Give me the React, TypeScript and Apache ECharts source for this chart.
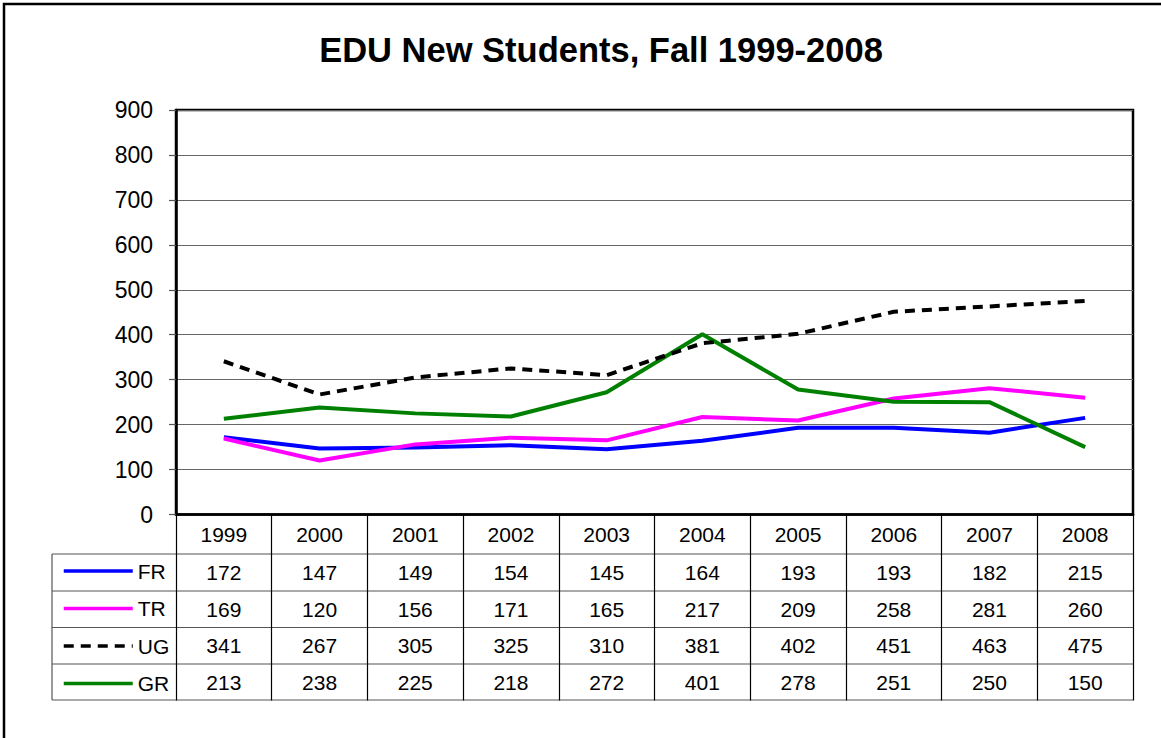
import React, { useEffect, useRef } from "react";
import * as echarts from "echarts";

const years = ["1999", "2000", "2001", "2002", "2003", "2004", "2005", "2006", "2007", "2008"];
const FR = [172, 147, 149, 154, 145, 164, 193, 193, 182, 215];
const TR = [169, 120, 156, 171, 165, 217, 209, 258, 281, 260];
const UG = [341, 267, 305, 325, 310, 381, 402, 451, 463, 475];
const GR = [213, 238, 225, 218, 272, 401, 278, 251, 250, 150];
const seriesNames = ["FR", "TR", "UG", "GR"];
const seriesData = [FR, TR, UG, GR];
const title = "EDU New Students, Fall 1999-2008";

const FONT = "'Liberation Sans', Arial, sans-serif";

export default function App() {
  const ref = useRef<HTMLDivElement>(null);
  useEffect(() => {
    document.body.style.margin = "0";
    const chart = echarts.init(ref.current!, null, { renderer: "svg" });
    const gridLeft = 176;
    const gridTop = 110;
    const gridRight = 1133;
    const gridBottom = 514.5;
    const colors = ["#0000FF", "#FF00FF", "#000000", "#008000"];
    const rowOffsets = [38, 75, 111, 148];
    const hLines = [554, 591, 627.5, 664, 700];

    const extraX = seriesData.map((arr, i) => ({
      type: "category",
      data: years,
      gridIndex: 0,
      position: "bottom",
      offset: rowOffsets[i],
      boundaryGap: true,
      axisLine: { show: false },
      axisTick: { show: false },
      splitLine: { show: false },
      axisLabel: {
        interval: 0,
        margin: 9,
        fontSize: 21,
        color: "#000",
        fontFamily: FONT,
        formatter: (_v: string, idx: number) => String(arr[idx]),
      },
    }));

    const graphics: any[] = [
      {
        type: "rect",
        shape: { x: 4, y: 4, width: 1300, height: 900 },
        style: { fill: "none", stroke: "#000", lineWidth: 2.5 },
        silent: true,
      },
      ...hLines.map((y) => ({
        type: "line",
        shape: { x1: 52, y1: y, x2: gridRight, y2: y },
        style: { stroke: "#555", lineWidth: 1.2 },
        silent: true,
      })),
      {
        type: "line",
        shape: { x1: 52, y1: hLines[0], x2: 52, y2: hLines[hLines.length - 1] },
        style: { stroke: "#555", lineWidth: 1.2 },
        silent: true,
      },
    ];

    chart.setOption({
      animation: false,
      backgroundColor: "#fff",
      title: {
        text: title,
        left: 601,
        top: 32,
        textAlign: "center",
        padding: 0,
        textStyle: { fontSize: 34.5, fontWeight: "bold", color: "#000", fontFamily: FONT },
      },
      legend: {
        data: seriesNames,
        orient: "vertical",
        left: 62,
        top: 560.5,
        itemWidth: 69,
        itemHeight: 20,
        itemGap: 16.5,
        padding: 0,
        itemStyle: { color: "rgba(0,0,0,0)", borderWidth: 0, opacity: 0 },
        lineStyle: { width: 3.5 },
        textStyle: { fontSize: 21, color: "#000", fontFamily: FONT },
      },
      grid: {
        left: gridLeft,
        top: gridTop,
        width: gridRight - gridLeft,
        height: gridBottom - gridTop,
        show: true,
        borderColor: "#000",
        borderWidth: 2.5,
        backgroundColor: "#fff",
      },
      xAxis: [
        {
          type: "category",
          data: years,
          boundaryGap: true,
          axisLine: { show: true, lineStyle: { color: "#000", width: 2.5 } },
          axisTick: { show: true, interval: 0, length: 186, lineStyle: { color: "#000", width: 1.2 } },
          splitLine: { show: false },
          axisLabel: { interval: 0, margin: 9, fontSize: 21, color: "#000", fontFamily: FONT },
        },
        ...extraX,
      ],
      yAxis: {
        type: "value",
        min: 0,
        max: 900,
        interval: 100,
        axisLine: { show: true, lineStyle: { color: "#000", width: 2.5 } },
        axisTick: { show: true, length: 7, lineStyle: { color: "#555", width: 1.2 } },
        splitLine: { show: true, lineStyle: { color: "#666", width: 1.2 } },
        axisLabel: { margin: 23, fontSize: 23, color: "#000", fontFamily: FONT },
      },
      series: seriesNames.map((name, i) => ({
        name,
        type: "line",
        data: seriesData[i],
        xAxisIndex: 0,
        symbol: "none",
        showSymbol: false,
        color: colors[i],
        lineStyle: {
          color: colors[i],
          width: 4,
          type: name === "UG" ? [10, 7] : "solid",
        },
        z: name === "UG" ? 3 : 2,
      })),
      graphic: graphics,
    });
    return () => chart.dispose();
  }, []);
  return (
    <div
      ref={ref}
      style={{ position: "absolute", left: 0, top: 0, width: 1161, height: 738 }}
    />
  );
}
